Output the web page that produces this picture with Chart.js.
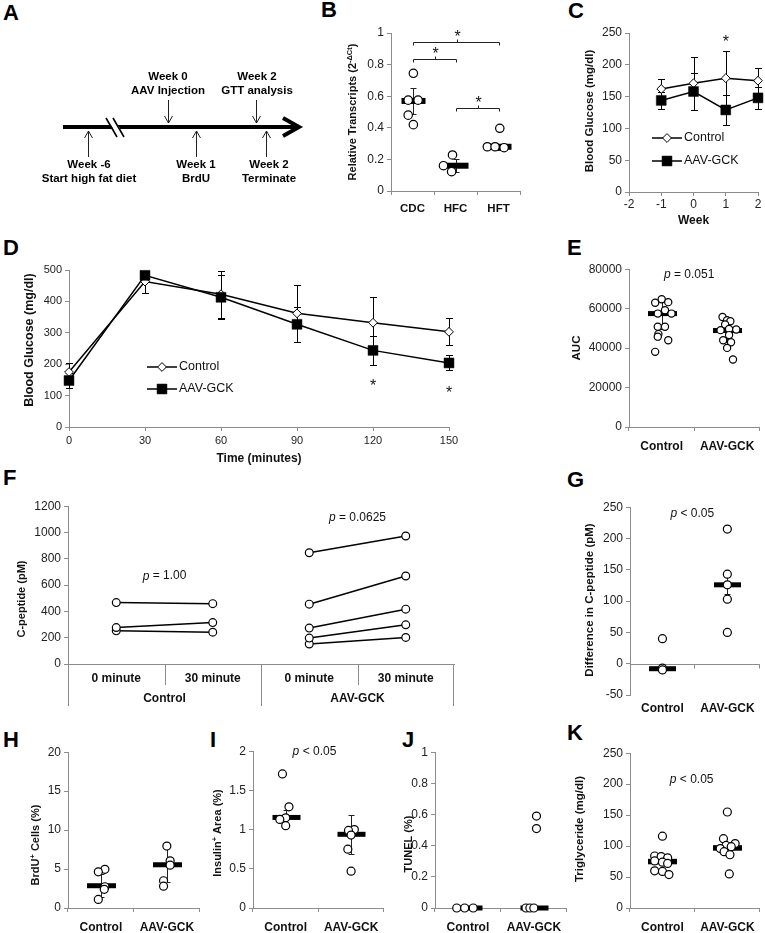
<!DOCTYPE html>
<html>
<head>
<meta charset="utf-8">
<title>AAV-GCK figure</title>
<script src="https://cdn.jsdelivr.net/npm/chart.js@4.4.1/dist/chart.umd.min.js"></script>
<style>
  body { margin: 0; width: 765px; height: 933px; position: relative; background: #fff; overflow: hidden; }
  canvas { position: absolute; }
  .lab { position: absolute; font: bold 22px "Liberation Sans", Arial, sans-serif; line-height: 22px; color: #000; }
</style>
</head>
<body>
<div class="lab" style="left:3px;top:2px">A</div>
<div class="lab" style="left:321px;top:-1px">B</div>
<div class="lab" style="left:568px;top:0px">C</div>
<div class="lab" style="left:3px;top:237px">D</div>
<div class="lab" style="left:567px;top:237px">E</div>
<div class="lab" style="left:3px;top:467px">F</div>
<div class="lab" style="left:567px;top:469px">G</div>
<div class="lab" style="left:3px;top:729px">H</div>
<div class="lab" style="left:210px;top:729px">I</div>
<div class="lab" style="left:402px;top:729px">J</div>
<div class="lab" style="left:567px;top:722px">K</div>
<script>
const FONT = '"Liberation Sans", Arial, sans-serif';
const AX = '#8c8c8c';
const INK = '#111';

// A - timeline
const aWeek = ['Week -6', 'Week 0', 'Week 1', 'Week 2', 'Week 2'];
const aEvent = ['Start high fat diet', 'AAV Injection', 'BrdU', 'GTT analysis', 'Terminate'];

// B - transcripts
const bCats = ['CDC', 'HFC', 'HFT'];
const bCDC = [0.745, 0.575, 0.575, 0.48, 0.42];
const bHFC = [0.228, 0.16, 0.122];
const bHFT = [0.397, 0.28, 0.28, 0.274];
const bMean = [0.57, 0.16, 0.28];
const bErr = [0.085, 0.04, 0.02];
const bSig = [[0, 2, 0.945], [0, 1, 0.833], [1, 2, 0.523]];

// C - weekly glucose
const cWeek = [-1, 0, 1, 2];
const cCtrl = [162, 171, 179, 175];
const cCtrlErr = [16, 42, 42, 20];
const cAav = [144, 158, 129, 148];
const cAavErr = [13, 29, 23, 17];

// D - GTT
const dTime = [0, 30, 60, 90, 120, 150];
const dCtrl = [175, 463, 423, 362, 332, 303];
const dCtrlErr = [28, 35, 75, 90, 83, 43];
const dAav = [148, 483, 413, 327, 244, 204];
const dAavErr = [25, 10, 70, 55, 47, 24];

const groups = ['Control', 'AAV-GCK'];

// E - AUC
const eCtrl = [64800, 63000, 63300, 59200, 57500, 57500, 50800, 50800, 47100, 45800, 44000, 38100];
const eAav = [55800, 54100, 53600, 52000, 49100, 49700, 49400, 46600, 44000, 43000, 40100, 34200];
const eMed = [57500, 48900];
const eErr = [8000, 6000];

// F - C-peptide
const fCats = ['0 minute', '30 minute', '0 minute', '30 minute'];
const fCtrl0 = [467, 277, 252];
const fCtrl30 = [459, 315, 242];
const fAav0 = [846, 455, 273, 197, 152];
const fAav30 = [973, 669, 417, 298, 202];

// G - difference in C-peptide
const gCtrl = [40, -7, -10];
const gAav = [215, 143, 126, 103, 50];
const gMed = [-8, 126];
const gErr = [0, 15];

// H - BrdU
const hCtrl = [4.96, 4.65, 2.73, 2.4, 1.1];
const hAav = [7.95, 6.06, 5.5, 3.5, 2.8];
const hMed = [2.86, 5.55];
const hErr = [1.5, 2.25];

// I - insulin area
const iCtrl = [1.71, 1.29, 1.15, 1.13, 1.05];
const iAav = [1.0, 0.99, 0.93, 0.75, 0.47];
const iMed = [1.155, 0.94];
const iErr = [0.09, 0.25];

// J - TUNEL
const jCtrl = [0, 0, 0];
const jAav = [0.59, 0.51, 0, 0, 0];
const jMed = [0, 0];

// K - triglyceride
const kCtrl = [116, 84, 83, 81, 76, 74, 72, 60, 59, 54];
const kAav = [155, 112, 104, 101, 99, 96, 91, 86, 55];
const kMed = [75, 97];

// sideways spread of overlapping dots, in category widths
const bSpread = [[0.02, -0.1, 0.13, -0.1, 0.02], [-0.07, -0.28, -0.09], [0.03, -0.26, -0.08, 0.13]];
const eSpread = [[0, -0.1, 0.1, 0.05, -0.06, 0.15, -0.06, 0.05, -0.05, -0.06, 0.1, -0.1],
                 [-0.07, 0, 0.05, -0.03, -0.1, 0.03, 0.14, 0.03, -0.06, 0.06, 0, 0.09]];
const gSpread = [[0, 0, 0], [0, 0, 0, 0, 0]];
const hSpread = [[0.06, -0.04, 0.06, 0.05, -0.04], [0, 0.05, 0.05, -0.05, -0.05]];
const iSpread = [[-0.05, 0.05, 0, -0.09, 0], [0.05, -0.04, 0, -0.05, 0]];
const jSpread = [[-0.17, -0.05, 0.08], [0.04, 0.04, -0.12, -0.06, 0]];
const kSpread = [[0, -0.12, -0.02, 0.08, -0.12, 0, 0.08, -0.12, 0, 0.1],
                 [0, -0.06, 0.12, -0.02, 0.06, -0.11, -0.05, 0.04, 0.03]];

// ---------- helpers ----------
function makeChart(area, pad, config) {
  const [x0, x1, y0, y1] = area, [L, T, R, B] = pad;
  const cv = document.createElement('canvas');
  cv.width = x1 - x0 + L + R;
  cv.height = y1 - y0 + T + B;
  cv.style.left = (x0 - L) + 'px';
  cv.style.top = (y0 - T) + 'px';
  document.body.appendChild(cv);
  const o = config.options;
  o.responsive = false;
  o.animation = false;
  o.events = [];
  o.layout = {padding: {left: 0, top: T, right: R, bottom: 0}};
  o.plugins = Object.assign({legend: {display: false}, tooltip: {enabled: false}}, o.plugins || {});
  o.scales.y.afterFit = s => { s.width = L; };
  o.scales.x.afterFit = s => { s.height = B; };
  return new Chart(cv, config);
}

function yAxis(min, max, step, size) {
  return {
    min, max,
    border: {color: AX},
    grid: {drawOnChartArea: false, tickLength: 4, color: AX},
    ticks: {stepSize: step, color: '#222', padding: 3, font: {family: FONT, size: size || 12},
            callback: v => String(Math.round(v * 1000) / 1000)}
  };
}

function catAxis(pad, size) {
  return {
    type: 'category', offset: true,
    border: {color: AX},
    grid: {offset: true, drawOnChartArea: false, tickLength: 4, color: AX},
    ticks: {color: INK, padding: pad, autoSkip: false, maxRotation: 0,
            font: {family: FONT, size: size || 12, weight: 'bold'}}
  };
}

function dataAxis(n) {
  return {type: 'linear', display: false, min: -0.5, max: n - 0.5};
}

function star(ctx, x, cy, size) {
  ctx.font = size + 'px ' + FONT;
  ctx.textAlign = 'center';
  ctx.textBaseline = 'alphabetic';
  ctx.fillText('*', x, cy + 0.585 * size);
}

function yTitle(parts, px, py, size) {
  if (typeof parts === 'string') parts = [[parts, 0]];
  return {id: 'ytitle', afterDraw(ch) {
    const ctx = ch.ctx;
    const fb = 'bold ' + size + 'px ' + FONT, fs = 'bold ' + (size * 0.68) + 'px ' + FONT;
    ctx.save();
    let w = 0;
    parts.forEach(p => { ctx.font = p[1] ? fs : fb; w += ctx.measureText(p[0]).width; });
    ctx.translate(px - ch.canvas.offsetLeft, py - ch.canvas.offsetTop);
    ctx.rotate(-Math.PI / 2);
    ctx.fillStyle = INK;
    ctx.textBaseline = 'middle';
    ctx.textAlign = 'left';
    let x = -w / 2;
    parts.forEach(p => {
      ctx.font = p[1] ? fs : fb;
      ctx.fillText(p[0], x, p[1] ? -size * 0.32 : 0);
      x += ctx.measureText(p[0]).width;
    });
    ctx.restore();
  }};
}

function notes(list, size) {
  return {id: 'notes', afterDatasetsDraw(ch) {
    const ctx = ch.ctx, xs = ch.scales.xd || ch.scales.x, ys = ch.scales.y;
    ctx.save();
    ctx.fillStyle = INK;
    list.forEach(n => {
      const x = xs.getPixelForValue(n.x), y = ys.getPixelForValue(n.y);
      if (n.p) {
        const fi = 'italic ' + size + 'px ' + FONT, fr = size + 'px ' + FONT;
        ctx.textBaseline = 'middle';
        ctx.textAlign = 'left';
        ctx.font = fi;
        const w1 = ctx.measureText('p').width;
        ctx.font = fr;
        const w2 = ctx.measureText(n.p).width;
        const sx = x - (w1 + w2) / 2;
        ctx.font = fi; ctx.fillText('p', sx, y);
        ctx.font = fr; ctx.fillText(n.p, sx + w1, y);
      } else {
        star(ctx, x, y, 16);
      }
    });
    ctx.restore();
  }};
}

// median/mean bar with whiskers, drawn under the dots
function summary(mid, err, half, thick) {
  return {id: 'summary', beforeDatasetsDraw(ch) {
    const ctx = ch.ctx, xs = ch.scales.xd, ys = ch.scales.y;
    ctx.save();
    mid.forEach((m, i) => {
      const x = Math.round(xs.getPixelForValue(i)) + 0.5;
      const e = err ? err[i] : 0;
      if (e) {
        const t = Math.round(ys.getPixelForValue(m + e)) + 0.5, b = Math.round(ys.getPixelForValue(m - e)) + 0.5;
        ctx.strokeStyle = '#222';
        ctx.lineWidth = 1;
        ctx.beginPath();
        ctx.moveTo(x, t); ctx.lineTo(x, b);
        ctx.moveTo(x - 3, t); ctx.lineTo(x + 3, t);
        ctx.moveTo(x - 3, b); ctx.lineTo(x + 3, b);
        ctx.stroke();
      }
      const y = ys.getPixelForValue(m);
      ctx.fillStyle = '#000';
      ctx.fillRect(x - half, y - thick / 2, 2 * half, thick);
    });
    ctx.restore();
  }};
}

function dots(vals, spread, g, r) {
  return {
    type: 'scatter', xAxisID: 'xd', clip: false,
    data: vals.map((v, k) => ({x: g + spread[k], y: v})),
    pointRadius: r || 4, pointBackgroundColor: '#fff', pointBorderColor: '#000', pointBorderWidth: 1.2
  };
}

function dotPanel(area, pad, cats, sets, spreads, mid, err, ymin, ymax, step, opt) {
  const plugins = (opt.under || []).concat([summary(mid, err, opt.half || 14, opt.thick || 5),
    yTitle(opt.title, opt.tx, opt.ty, opt.tsize || 11)]);
  if (opt.notes) plugins.push(notes(opt.notes, 12));
  if (opt.extra) plugins.push(...opt.extra);
  const x = catAxis(opt.lpad == null ? 8 : opt.lpad, opt.csize);
  if (opt.bare) {
    x.border.display = false;
    x.grid.display = false;
    x.grid.drawTicks = false;
  }
  return makeChart(area, pad, {
    type: 'scatter',
    data: {labels: cats, datasets: sets.map((v, g) => dots(v, spreads[g], g, opt.r))},
    options: {scales: {x, xd: dataAxis(cats.length), y: yAxis(ymin, ymax, step, opt.tick)}},
    plugins
  });
}

function marker(ctx, ds, x, y) {
  const r = ds.pointRadius;
  ctx.beginPath();
  if (ds.pointStyle === 'rectRot') {
    ctx.moveTo(x, y - r); ctx.lineTo(x + r, y); ctx.lineTo(x, y + r); ctx.lineTo(x - r, y); ctx.closePath();
  } else {
    const s = r * Math.SQRT1_2;
    ctx.rect(x - s, y - s, 2 * s, 2 * s);
  }
  ctx.fillStyle = ds.pointBackgroundColor; ctx.fill();
  ctx.lineWidth = ds.pointBorderWidth; ctx.strokeStyle = ds.pointBorderColor; ctx.stroke();
}

function lineLegend(px, py, gap) {
  return {id: 'lineLegend', afterDraw(ch) {
    const ctx = ch.ctx, ox = ch.canvas.offsetLeft, oy = ch.canvas.offsetTop;
    ctx.save();
    ch.data.datasets.forEach((ds, i) => {
      const x = px - ox, y = py - oy + i * gap;
      ctx.strokeStyle = '#000'; ctx.lineWidth = 1.5;
      ctx.beginPath(); ctx.moveTo(x, y); ctx.lineTo(x + 30, y); ctx.stroke();
      marker(ctx, ds, x + 15, y);
      ctx.fillStyle = INK; ctx.font = '12.5px ' + FONT;
      ctx.textAlign = 'left'; ctx.textBaseline = 'middle';
      ctx.fillText(ds.label, x + 32, y);
    });
    ctx.restore();
  }};
}

function lineErr(errs, cap) {
  return {id: 'lineErr', beforeDatasetsDraw(ch) {
    const ctx = ch.ctx, xs = ch.scales.x, ys = ch.scales.y;
    ctx.save(); ctx.strokeStyle = '#000'; ctx.lineWidth = 1;
    ch.data.datasets.forEach((ds, i) => ds.data.forEach((p, k) => {
      const x = Math.round(xs.getPixelForValue(p.x)) + 0.5;
      const t = Math.round(ys.getPixelForValue(p.y + errs[i][k])) + 0.5;
      const b = Math.round(ys.getPixelForValue(p.y - errs[i][k])) + 0.5;
      ctx.beginPath();
      ctx.moveTo(x, t); ctx.lineTo(x, b);
      ctx.moveTo(x - cap, t); ctx.lineTo(x + cap, t);
      ctx.moveTo(x - cap, b); ctx.lineTo(x + cap, b);
      ctx.stroke();
    }));
    ctx.restore();
  }};
}

function series(label, xs, ys, diamond) {
  return {
    label, data: xs.map((x, k) => ({x, y: ys[k]})), order: diamond ? 1 : 0,
    borderColor: '#000', borderWidth: 1.5, tension: 0, clip: false,
    pointStyle: diamond ? 'rectRot' : 'rect', pointRadius: diamond ? 4.4 : 7,
    pointBackgroundColor: diamond ? '#fff' : '#000', pointBorderColor: '#000', pointBorderWidth: diamond ? 1 : 0.5
  };
}

function linePanel(area, pad, sets, errs, xmin, xmax, xstep, ymin, ymax, ystep, opt) {
  return makeChart(area, pad, {
    type: 'line',
    data: {datasets: sets},
    options: {scales: {
      x: {type: 'linear', min: xmin, max: xmax,
          border: {color: AX}, grid: {drawOnChartArea: false, tickLength: 4, color: AX},
          ticks: {stepSize: xstep, color: '#222', padding: opt.xpad, font: {family: FONT, size: opt.tick || 12},
                  callback: v => String(v)},
          title: {display: true, text: opt.xtitle, color: INK, font: {family: FONT, size: 12, weight: 'bold'}}},
      y: yAxis(ymin, ymax, ystep, opt.tick)
    }},
    plugins: [lineErr(errs, 3.5), yTitle(opt.title, opt.tx, opt.ty, opt.tsize || 11.5),
              lineLegend(opt.lx, opt.ly, opt.lgap), notes(opt.notes, 12)]
  });
}

// ---------- A: timeline ----------
(function () {
  const cv = document.createElement('canvas');
  cv.width = 320; cv.height = 200;
  cv.style.left = '0px'; cv.style.top = '0px';
  document.body.appendChild(cv);
  new Chart(cv, {
    type: 'scatter',
    data: {datasets: []},
    options: {responsive: false, animation: false, events: [],
              plugins: {legend: {display: false}, tooltip: {enabled: false}},
              scales: {x: {display: false}, y: {display: false}}},
    plugins: [{id: 'timeline', afterDraw(ch) {
      const ctx = ch.ctx, y = 127;
      const ax = [88, 168, 196, 256, 266], tx = [89, 168, 196, 257, 269], up = [1, 0, 1, 0, 1];
      ctx.save();
      ctx.strokeStyle = '#000';
      ctx.lineWidth = 4;
      ctx.beginPath(); ctx.moveTo(63, y); ctx.lineTo(296, y); ctx.stroke();
      ctx.lineJoin = 'miter';
      ctx.beginPath(); ctx.moveTo(283, 118); ctx.lineTo(299, y); ctx.lineTo(283, 136); ctx.stroke();
      // axis break
      ctx.fillStyle = '#fff';
      ctx.beginPath(); ctx.moveTo(107, 119); ctx.lineTo(114, 119); ctx.lineTo(124, 135); ctx.lineTo(117, 135); ctx.closePath(); ctx.fill();
      ctx.lineWidth = 1.6;
      ctx.beginPath(); ctx.moveTo(106, 118); ctx.lineTo(117, 137); ctx.moveTo(113, 118); ctx.lineTo(124, 137); ctx.stroke();
      // event arrows
      ctx.lineWidth = 1; ctx.strokeStyle = '#222';
      ax.forEach((x, i) => {
        const xx = x + 0.5;
        ctx.beginPath();
        if (up[i]) {
          ctx.moveTo(xx, 157); ctx.lineTo(xx, 131);
          ctx.moveTo(xx - 4, 138); ctx.lineTo(xx, 131); ctx.lineTo(xx + 4, 138);
        } else {
          ctx.moveTo(xx, 100); ctx.lineTo(xx, 123);
          ctx.moveTo(xx - 4, 116); ctx.lineTo(xx, 123); ctx.lineTo(xx + 4, 116);
        }
        ctx.stroke();
      });
      ctx.fillStyle = '#000';
      ctx.font = 'bold 11.5px ' + FONT;
      ctx.textAlign = 'center'; ctx.textBaseline = 'middle';
      aWeek.forEach((w, i) => {
        const ty = up[i] ? 165 : 77;
        ctx.fillText(w, tx[i], ty);
        ctx.fillText(aEvent[i], tx[i], ty + 14);
      });
      ctx.restore();
    }}]
  });
})();

// ---------- B ----------
const bBrackets = {id: 'brackets', afterDatasetsDraw(ch) {
  const ctx = ch.ctx, xs = ch.scales.xd, ys = ch.scales.y;
  ctx.save(); ctx.strokeStyle = '#222'; ctx.lineWidth = 1; ctx.fillStyle = INK;
  bSig.forEach(([a, b, h]) => {
    const x1 = Math.round(xs.getPixelForValue(a)) + 0.5, x2 = Math.round(xs.getPixelForValue(b)) + 0.5;
    const y = Math.round(ys.getPixelForValue(h)) + 0.5, xm = Math.round((x1 + x2) / 2) + 0.5;
    ctx.beginPath();
    ctx.moveTo(x1, y + 3); ctx.lineTo(x1, y); ctx.lineTo(x2, y); ctx.lineTo(x2, y + 3);
    ctx.moveTo(xm, y); ctx.lineTo(xm, y - 3);
    ctx.stroke();
    star(ctx, xm, y - 9.5, 16);
  });
  ctx.restore();
}};
dotPanel([391, 520, 33, 191], [50, 14, 8, 32], bCats, [bCDC, bHFC, bHFT], bSpread, bMean, bErr, 0, 1, 0.2,
  {half: 12, thick: 6, r: 4.2, csize: 11.5, lpad: 7, tsize: 11, tx: 353, ty: 112,
   title: [['Relative Transcripts (2', 0], ['-\u0394Ct', 1], [')', 0]], extra: [bBrackets]});

// ---------- C ----------
linePanel([629, 758, 33, 192], [49, 12, 10, 40],
  [series('Control', cWeek, cCtrl, true), series('AAV-GCK', cWeek, cAav, false)],
  [cCtrlErr, cAavErr], -2, 2, 1, 0, 250, 50,
  {xpad: 1, xtitle: 'Week', title: 'Blood Glucose (mg/dl)', tx: 590, ty: 111,
   lx: 652, ly: 138, lgap: 23, notes: [{x: 1, y: 243}]});

// ---------- D ----------
linePanel([69, 449, 270, 427], [50, 10, 14, 43],
  [series('Control', dTime, dCtrl, true), series('AAV-GCK', dTime, dAav, false)],
  [dCtrlErr, dAavErr], 0, 150, 30, 0, 500, 100,
  {xpad: 3, tick: 11, xtitle: 'Time (minutes)', title: 'Blood Glucose (mg/dl)', tx: 30, ty: 340, tsize: 12.5,
   lx: 147, ly: 367, lgap: 22, notes: [{x: 120, y: 144}, {x: 150, y: 123}]});

// ---------- E ----------
dotPanel([629, 762, 269, 427], [64, 10, 3, 30], groups, [eCtrl, eAav], eSpread, eMed, eErr, 0, 80000, 20000,
  {half: 14.5, thick: 5, r: 3.6, lpad: 8, tsize: 11.5, title: 'AUC', tx: 577, ty: 348,
   notes: [{x: 0.42, y: 77000, p: ' = 0.051'}]});

// ---------- F ----------
const fAxis = {id: 'fAxis', afterDraw(ch) {
  const ctx = ch.ctx, xs = ch.scales.x, top = xs.top;
  const n = fCats.length, w = (xs.right - xs.left) / n;
  ctx.save(); ctx.strokeStyle = AX; ctx.lineWidth = 1; ctx.beginPath();
  for (let i = 0; i <= n; i++) {
    const x = Math.round(xs.left + i * w) + (i < n ? 0.5 : -0.5);
    ctx.moveTo(x, top); ctx.lineTo(x, top + (i % 2 === 0 ? 42 : 21));
  }
  ctx.stroke();
  ctx.fillStyle = INK; ctx.font = 'bold 12px ' + FONT;
  ctx.textAlign = 'center'; ctx.textBaseline = 'middle';
  groups.forEach((g, k) => ctx.fillText(g, xs.left + (2 * k + 1) * w, top + 35));
  ctx.restore();
}};
(function () {
  const pair = (a, b, g) => a.map((v, k) => ({
    type: 'line', xAxisID: 'xd', clip: false, showLine: true,
    data: [{x: 2 * g, y: v}, {x: 2 * g + 1, y: b[k]}],
    borderColor: '#000', borderWidth: 1.5,
    pointRadius: 3.9, pointBackgroundColor: '#fff', pointBorderColor: '#000', pointBorderWidth: 1.2
  }));
  const x = catAxis(7, 12);
  x.grid.drawTicks = false;
  makeChart([68, 454, 506, 664], [58, 10, 8, 48], {
    type: 'scatter',
    data: {labels: fCats, datasets: pair(fCtrl0, fCtrl30, 0).concat(pair(fAav0, fAav30, 1))},
    options: {scales: {x, xd: dataAxis(fCats.length), y: yAxis(0, 1200, 200)}},
    plugins: [yTitle('C-peptide (pM)', 22, 599, 11), fAxis,
              notes([{x: 0.5, y: 668, p: ' = 1.00'}, {x: 2.5, y: 1116, p: ' = 0.0625'}], 12)]
  });
})();

// ---------- G ----------
const zeroAxis = {id: 'zeroAxis', beforeDatasetsDraw(ch) {
  const ctx = ch.ctx, xs = ch.scales.x, y = Math.round(ch.scales.y.getPixelForValue(0)) + 0.5;
  const n = ch.data.labels.length, w = (xs.right - xs.left) / n;
  ctx.save(); ctx.strokeStyle = AX; ctx.lineWidth = 1; ctx.beginPath();
  ctx.moveTo(xs.left, y); ctx.lineTo(xs.right, y);
  for (let i = 1; i <= n; i++) {
    const x = Math.round(xs.left + i * w) - 0.5;
    ctx.moveTo(x, y); ctx.lineTo(x, y + 4);
  }
  ctx.stroke(); ctx.restore();
}};
dotPanel([630, 761, 507, 695], [52, 10, 4, 30], groups, [gCtrl, gAav], gSpread, gMed, gErr, -50, 250, 50,
  {half: 13.5, thick: 5, lpad: 6, tsize: 11.5, title: 'Difference in C-peptide (pM)', tx: 590, ty: 600,
   bare: true, under: [zeroAxis],
   notes: [{x: 0.46, y: 240, p: ' < 0.05'}]});

// ---------- H ----------
dotPanel([68, 201, 752, 908], [42, 10, 4, 25], groups, [hCtrl, hAav], hSpread, hMed, hErr, 0, 20, 5,
  {half: 14.5, thick: 5, lpad: 8, title: [['BrdU', 0], ['+', 1], [' Cells (%)', 0]], tx: 36, ty: 845});

// ---------- I ----------
dotPanel([253, 385, 751, 908], [45, 10, 4, 25], groups, [iCtrl, iAav], iSpread, iMed, iErr, 0, 2, 0.5,
  {half: 14, thick: 5, lpad: 8, title: [['Insulin', 0], ['+', 1], [' Area (%)', 0]], tx: 218, ty: 833,
   notes: [{x: 0.44, y: 2.0, p: ' < 0.05'}]});

// ---------- J ----------
dotPanel([435, 568, 752, 908], [36, 10, 4, 25], groups, [jCtrl, jAav], jSpread, jMed, null, 0, 1, 0.2,
  {half: 14, thick: 5, lpad: 8, title: 'TUNEL (%)', tx: 409, ty: 844});

// ---------- K ----------
dotPanel([630, 762, 753, 908], [60, 10, 3, 25], groups, [kCtrl, kAav], kSpread, kMed, null, 0, 250, 50,
  {half: 14.5, thick: 5.5, lpad: 8, tsize: 11.5, title: 'Triglyceride (mg/dl)', tx: 580, ty: 829,
   notes: [{x: 0.45, y: 208, p: ' < 0.05'}]});
</script>
</body>
</html>
